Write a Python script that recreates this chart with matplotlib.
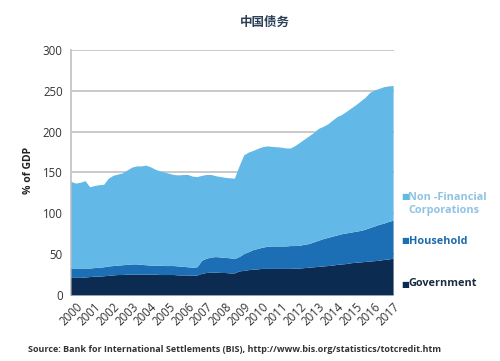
import numpy as np
import matplotlib
matplotlib.use("Agg")
import matplotlib.pyplot as plt

# Quarterly observations, 2000Q1 .. 2017Q2 (% of GDP, cumulative levels)
quarters = 2000 + 0.25 * np.arange(70)

government = [21.5, 21.5, 21.5, 22, 22.5, 23, 23, 23.5, 24, 24.5, 25, 25,
              25.5, 25.5, 25.5, 25.5, 25.5, 25.5, 25.5, 25, 25, 25, 25, 24.5,
              24.5, 24.5, 24, 24.5, 26.5, 27.5, 28, 28, 27.5, 27.5, 27, 27,
              29.5, 30, 31, 31.5, 32, 32.5, 32.5, 32.5, 32.5, 32.5, 32.5, 32.5,
              33, 33, 33.5, 34, 34.5, 35, 35.5, 36, 36.5, 37.5, 38, 38.5,
              39.5, 40, 40.5, 41, 41.5, 42, 42.5, 43.5, 44, 45]

gov_plus_household = [33, 33, 33, 33, 33, 33.5, 34, 34.5, 35.5, 36, 36.5, 37,
                      37.5, 38, 38, 37.5, 37, 36.5, 36.5, 36.5, 36, 36, 36, 35.5,
                      35, 34.5, 34, 34.5, 42.5, 45, 46.5, 47, 46.5, 46, 45.5, 44.5,
                      47, 50.5, 53, 55.5, 57, 58.5, 59.5, 60, 60, 60, 60, 60.5,
                      60.5, 61, 62, 63, 65, 67, 69, 70.5, 72, 73.5, 75, 76,
                      77, 78, 79, 80.5, 82.5, 84.5, 86.5, 88, 90, 91.5]

total_debt = [139, 137, 138, 140, 132.5, 134, 135, 135.5, 143, 146.5, 148, 149.5,
              153, 156.5, 158, 158, 159, 157, 154, 152, 150.5, 149, 147.5, 147,
              147.5, 147.5, 145.5, 145, 146.5, 147.5, 147.5, 146, 145, 144, 143.5, 143,
              158, 171.5, 175, 177, 179.5, 181.5, 182.5, 182, 181.5, 181, 180, 180,
              183, 187, 191, 195, 199, 204, 206.5, 209.5, 214, 218.5, 221, 225,
              229, 233, 237.5, 242, 248, 251, 253, 255, 256, 256.5]

year_labels = [str(y) for y in range(2000, 2018)]
series_names = ["Non -Financial\nCorporations", "Household", "Government"]

c_nfc = "#62b8e7"
c_hh = "#1c6fb5"
c_gov = "#0c2b50"

fig = plt.figure(figsize=(5.0, 3.61), dpi=100)
ax = fig.add_axes([0.142, 0.183, 0.646, 0.6785])

ax.fill_between(quarters, 0, government, color=c_gov, lw=0, zorder=3)
ax.fill_between(quarters, government, gov_plus_household, color=c_hh, lw=0, zorder=3)
ax.fill_between(quarters, gov_plus_household, total_debt, color=c_nfc, lw=0, zorder=3)

ax.set_xlim(2000, 2017.3)
ax.set_ylim(0, 300)
ax.set_yticks(range(0, 301, 50))
ax.yaxis.grid(True, color="#c9c9c9", lw=1.4, zorder=1)
ax.set_axisbelow(True)
for s in ["top", "right", "bottom"]:
    ax.spines[s].set_visible(False)
ax.spines["left"].set_color("#c9c9c9")
ax.spines["left"].set_linewidth(1.4)

ax.set_xticks(range(2000, 2018))
ax.set_xticklabels(year_labels, rotation=45, ha="center", va="top",
                   fontsize=8.3, color="#333333", family="Open Sans")
ax.tick_params(axis="x", length=0, pad=4)
ax.tick_params(axis="y", length=0, pad=6, labelsize=8.3, labelcolor="#333333")
for lab in ax.get_yticklabels():
    lab.set_family("Open Sans")

ax.set_ylabel("% of GDP", fontsize=7.5, fontweight="bold", color="#222222",
              family="Open Sans")
ax.yaxis.set_label_coords(-0.115, 0.51)

fig.text(0.53, 1 - 22 / 361, "中国债务", ha="center", va="center", fontsize=9,
         fontweight="bold", color="#2b3f55",
         family=["Noto Sans CJK SC", "DejaVu Sans"])

# Legend as coloured squares and labels
leg_colors = [c_nfc, c_hh, c_gov]
text_colors = ["#8fc3e3", "#1d6aab", "#1b2b42"]
for name, ypix, col, tcol in zip(series_names, [197, 241, 284], leg_colors, text_colors):
    yf = 1 - ypix / 361
    fig.text(0.802, yf, "■", color=col, fontsize=6, ha="left", va="center",
             family="DejaVu Sans")
    fig.text(0.817, yf, name.split("\n")[0], color=tcol, fontsize=7.8,
             fontweight="bold", ha="left", va="center", family="Open Sans")
    if "\n" in name:
        fig.text(0.817, yf - 13 / 361, name.split("\n")[1], color=tcol, fontsize=7.8,
                 fontweight="bold", ha="left", va="center", family="Open Sans")

fig.text(0.056, 1 - 349 / 361,
         "Source: Bank for International Settlements (BIS), http://www.bis.org/statistics/totcredit.htm",
         fontsize=6.5, fontweight="bold", color="#333333", ha="left", va="center",
         family="Open Sans")

fig.savefig("out.png", dpi=100, facecolor="white")
